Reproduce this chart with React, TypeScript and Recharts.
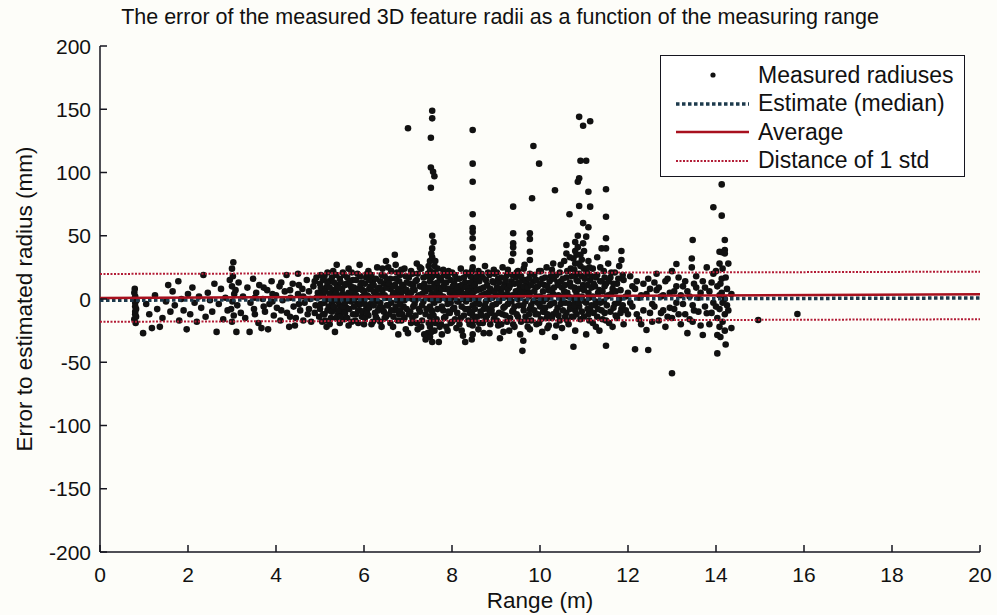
import { ScatterChart, Scatter, XAxis, YAxis } from "recharts";

// measured radius errors, grouped per range column: [range (m), errors (mm)]
const nearColumns: [number, number[]][] = [
  [0.78, [5, -16]], [0.8, [2, -3, -12, -6, -10]], [0.82, [-8, -14]], [0.81, [-19]], [0.83, [-1]], [0.79, [8]],
  [0.98, [-27]], [1.05, [-4]], [1.12, [-12]], [1.18, [-23]], [1.25, [3]], [1.3, [-8]], [1.36, [-22]],
  [1.42, [-15]], [1.5, [-2]], [1.55, [11]], [1.6, [-10]], [1.65, [6]], [1.7, [-5]], [1.78, [14]],
  [1.8, [-17]], [1.85, [0]], [1.9, [-9]], [1.97, [-24]], [2.0, [4]], [2.05, [-12]], [2.1, [9]],
  [2.15, [-3]], [2.2, [-18]], [2.25, [2]], [2.3, [-7]], [2.35, [19]], [2.4, [-14]], [2.45, [5]],
  [2.5, [-1]], [2.55, [-10]], [2.6, [12]], [2.65, [-26]], [2.7, [-4]], [2.75, [8]], [2.8, [-16]],
  [2.85, [1]], [2.9, [-9]], [2.95, [15]],
  [3.0, [24, 10, -18]], [3.03, [29]], [3.02, [18]], [3.05, [4]], [3.01, [-2]], [2.98, [-8]], [3.04, [-13]],
  [3.1, [-26]], [3.08, [7]], [3.12, [-5]], [3.15, [13]], [3.2, [-11]],
  [3.25, [2]], [3.3, [-15]], [3.35, [9]], [3.4, [-26]], [3.42, [-3]], [3.48, [16]], [3.5, [-8]],
  [3.55, [5]], [3.6, [-19]], [3.62, [11]], [3.67, [-23]], [3.7, [0]], [3.75, [-10]], [3.8, [7]],
  [3.82, [-24]], [3.85, [-4]], [3.9, [14]], [3.95, [-13]], [4.0, [3]], [4.02, [-7]], [4.08, [10]],
  [4.1, [-17]], [4.15, [-1]], [4.2, [6]], [4.24, [19]], [4.25, [-11]], [4.3, [-22]], [4.33, [1]],
  [4.38, [12]], [4.4, [-6]], [4.45, [-15]], [4.5, [20, 4]], [4.43, [-21]], [4.55, [-9]], [4.6, [8]],
  [4.65, [-3]], [4.7, [15]], [4.72, [-12]], [4.78, [0]], [4.8, [-18]], [4.85, [10]], [4.9, [-5]],
  [4.95, [5]], [4.98, [-14]],
];

const midColumns: [number, number[]][] = [
  [5.0, [12, -8, 2]], [5.05, [-18, 6]], [5.1, [18, -3, -12]], [5.15, [9, -22]], [5.2, [0, 14, -6]],
  [5.25, [-15, 4]], [5.3, [22, -9, 7]], [5.34, [-26, -1]], [5.38, [27, 11]], [5.4, [-13, 3]],
  [5.45, [16, -5, -19]], [5.5, [8, -10]], [5.55, [1, 19, -16]], [5.6, [-7, 12]], [5.65, [5, -21, 24]],
  [5.7, [-2, 10]], [5.75, [-12, 15, 3]], [5.8, [7, -17]], [5.85, [-4, 20]], [5.9, [27, 1, -9]],
  [5.95, [-14, 13]], [6.0, [6, -1, -20]], [6.05, [17, -8]], [6.1, [2, -13, 22]], [6.15, [10, -4]],
  [6.2, [-18, 14, 0]], [6.25, [5, -11]], [6.3, [25, -2, -16]], [6.35, [9, -7]], [6.4, [19, -22, 3]],
  [6.45, [-10, 12]], [6.5, [1, 30, -14]], [6.55, [25, -5]], [6.6, [8, -19, 16]], [6.66, [-22, 4]],
  [6.7, [11, -9, 35]], [6.75, [-1, 21]], [6.78, [-28, 6]], [6.8, [14, -12]], [6.85, [2, -17, 23]],
  [6.9, [9, -6]], [6.95, [18, -24]], [7.0, [-27, 4, 135]], [7.05, [12, -10]], [7.1, [0, 20, -15]],
  [7.15, [7, -4]], [7.2, [-19, 15, 28]], [7.25, [3, -8]], [7.3, [10, -22, 24]], [7.35, [-2, 17]],
  [7.4, [-32, 6, -12]], [7.45, [20, -27]],
  [7.5, [30, 22, 14, 8, 0, -6, -14, -22, -30]], [7.55, [40, 33, 50, 18, 4, -10, -18, -34, 148.8, 142.8]],
  [7.52, [127.5, 104, 88]], [7.57, [100.6]], [7.6, [97, 26, -3, -25, 12]], [7.65, [6, -16, 19]],
  [7.7, [-34, 9, -1]], [7.75, [15, -20]], [7.8, [2, -9, 23]], [7.85, [-14, 8]], [7.9, [18, -4, -25]],
  [7.95, [5, -11]], [8.0, [21, -18, 1]], [8.05, [-7, 12]], [8.1, [16, -23, 4]], [8.15, [-2, 10]],
  [8.2, [-15, 24, 7]], [8.25, [-29, 0]], [8.3, [13, -34, -8]], [8.35, [20, 3]], [8.4, [-11, 9, -20]],
  [8.47, [133.6, 107, 92.7, 67, 56, 53, 48, 41, 32, 25, 17, 10, 2, -5, -13, -21, -28]],
  [8.5, [6, -17]], [8.55, [14, -3]], [8.6, [-24, 22, 1]], [8.65, [8, -10]], [8.7, [17, -19]],
  [8.75, [-5, 4, 26]], [8.8, [-13, 11]], [8.85, [19, -27, 0]], [8.9, [6, -9]], [8.95, [23, -16, 13]],
  [9.0, [-4, 3]], [9.05, [-21, 16]], [9.09, [-31, 8]], [9.15, [1, -12, 25]], [9.2, [12, -6]],
  [9.25, [-18, 19, 4]], [9.3, [9, -25]], [9.35, [30, -2, 14]], [9.39, [73, 52, 44, 41, 36, -9, -20]],
  [9.45, [6, 17]], [9.5, [-14, 0, 22]], [9.55, [10, -28]], [9.6, [-41, 3, 15]], [9.62, [-5, -33]],
  [9.65, [7, 27]], [9.7, [-17, 12]], [9.77, [51.9, 47.4, 37.4, 30.8, 20, 5, -8, -24]], [9.82, [79.6]],
  [9.85, [121, 14, -2]], [9.9, [-12, 9]], [9.98, [107, 22, -19]],
];

const farColumns: [number, number[]][] = [
  [10.0, [2, -6]], [10.05, [16, -26]], [10.1, [-10, 11]], [10.15, [25, 0, -15]], [10.2, [7, -21]],
  [10.25, [18, -4]], [10.3, [-12, 4, 28]], [10.34, [86, -30]], [10.4, [13, -7]], [10.45, [21, -17]],
  [10.5, [-1, 9, -23]], [10.55, [30, 6]], [10.6, [42.7, 36, -11, 17]], [10.65, [2, -20]], [10.67, [67, -4]],
  [10.7, [24, 10]], [10.76, [-37.7, -14, 32]], [10.8, [45, 38, 28, 19, 7, -2, -9, -25]],
  [10.86, [92.7, 50, 41, 14, 0]], [10.89, [144, 95.4, 73.5, 20, -6]], [10.92, [109.3, 35, 26, -16]],
  [10.98, [137, 60, 44, 11]], [11.05, [109.3, 49.3, 23, -3, -28]], [11.1, [84.8, 56.7, 30, 5, -12]],
  [11.14, [140.5, 73, 15, -8]], [11.2, [24, -19, 2]], [11.25, [10, -5]], [11.3, [33, -14, 19]],
  [11.35, [-25, 7]], [11.4, [14, -9, 40]], [11.45, [-2, 22]], [11.5, [86.7, 65, 48, 40, -37, 12, -17]],
  [11.55, [3, 28]], [11.6, [-10, 17]], [11.65, [8, -22]], [11.7, [-4, 21]], [11.75, [12, -15]],
  [11.8, [0, 26]], [11.85, [38, 30.8, -8]], [11.9, [15, -20]], [12.0, [5, -12]], [12.05, [-3, 18]],
  [12.16, [-39.8, 8]], [12.25, [-16, 1]], [12.35, [12, -9]], [12.42, [-24.5, 4]], [12.46, [-40.3, 16]],
  [12.55, [-4, -18]], [12.65, [20, 7]], [12.75, [-11, 2]], [12.85, [-22, 14]], [12.95, [5, -7]],
  [13.0, [-58.7, 22, -15]], [13.1, [27.7, 10, -3]], [13.2, [-20, 3]], [13.3, [14, -12]], [13.35, [-27, 6]],
  [13.45, [25, 32]], [13.47, [46.6, -5, -18]], [13.55, [9, 18]], [13.6, [-10, 1]], [13.7, [-28.5, 14]],
  [13.79, [-11.3, 25]], [13.85, [6, -20]], [13.94, [72.5, 20, -3]], [14.03, [-43, -28.5, 10, -15]],
  [14.08, [37.4, 28, 3, -8, -22]], [14.13, [90.6, 65.9, 37, 16, 5]], [14.2, [46.6, 38.7, 36, 0, -12, -25]],
  [14.25, [8, -5]], [14.35, [-23, 4]], [14.96, [-16.6]], [15.85, [-11.9]],
];

// the thick band round zero, where the dots overlap
const bandColumns: [number, number[]][] = [
  [3.52, [1, -12]], [3.72, [9, -6]], [3.92, [-2, 4]], [4.12, [13, -9]], [4.32, [7, -14]], [4.52, [-4, 11]],
  [4.62, [2, -17]], [4.75, [6, -8]], [4.88, [-11, 14]], [4.92, [1, 17]],
  [5.02, [-4, 9, 19]], [5.07, [-12, 3, 15]], [5.12, [6, -17, 0]], [5.17, [-9, 12, 21]], [5.22, [4, -20, 9]],
  [5.27, [-3, 17, -10]], [5.32, [13, -6, 2]], [5.37, [-15, 5, 19]], [5.42, [9, -2, -9]], [5.47, [1, 13, -14]],
  [5.52, [-6, 21, 4]], [5.57, [11, -11, -3]], [5.62, [2, -15, 17]], [5.67, [14, -8, 0]], [5.72, [-18, 6, 21]],
  [5.77, [-6, 9, -1]], [5.82, [15, -12, 3]], [5.87, [-9, 8, -19]], [5.92, [11, -4, 18]], [5.97, [2, -10, 7]],
  [6.02, [12, -15, -4]], [6.07, [3, 20, -11]], [6.12, [-7, 8, 15]], [6.17, [-20, 1, 19]], [6.22, [6, -5, 11]],
  [6.27, [-14, 16, 0]], [6.32, [8, -9, 3]], [6.37, [14, -18, -3]], [6.42, [-7, 7, 24]], [6.47, [3, -15, 18]],
  [6.52, [9, -5, 15]], [6.57, [-12, 12, 1]], [6.62, [-3, 22, -9]], [6.67, [10, -14, 5]], [6.72, [-6, 16, 27]],
  [6.77, [8, -17, 2]], [6.82, [-4, 19, -9]], [6.87, [11, -12, 6]], [6.92, [-1, 24, -15]], [6.97, [7, -8, 13]],
  [7.02, [-12, 17, 1]], [7.07, [5, -19, 22]], [7.12, [-6, 11, 8]], [7.17, [14, -13, -1]], [7.22, [2, -24, 20]],
  [7.27, [-10, 10, 25]], [7.32, [4, -17, -5]], [7.37, [12, -28, 8]], [7.42, [-8, 18, 1]], [7.47, [9, -19, 26]],
  [7.53, [3, -9, 17, -26, 36]], [7.58, [-2, 9, 21, -13, 45]], [7.62, [2, -19, 30]], [7.67, [-8, 13, 24]],
  [7.72, [4, -22, 17]], [7.77, [-6, 8, -28]], [7.82, [11, -15, 19]], [7.87, [0, -22, 13]], [7.92, [8, -10, 22]],
  [7.97, [-3, 15, -19]], [8.02, [10, -8, 6]], [8.07, [-16, 3, 19]], [8.12, [8, -11, -2]], [8.17, [16, -20, 5]],
  [8.22, [-6, 11, -25]], [8.27, [4, 17, -13]], [8.32, [-2, 9, 21]], [8.37, [-17, 6, -8]], [8.42, [13, 0, 18]],
  [8.45, [-10, 4, 22, -32]], [8.52, [-8, 11, 1]], [8.57, [18, -14, 7]], [8.62, [-4, 14, -19]], [8.67, [3, 20, -13]],
  [8.72, [-8, 9, -27]], [8.77, [15, -2, -16]], [8.82, [5, 21, -8]], [8.87, [-11, 8, -20]], [8.92, [14, 1, -5]],
  [8.97, [-13, 6, 20]], [9.02, [9, -17, 21]], [9.07, [-2, 13, -11]], [9.12, [5, -20, 17]], [9.17, [-7, 9, -26]],
  [9.22, [15, 2, -13]], [9.27, [-4, 23, 8]], [9.32, [11, -15, -1]], [9.37, [3, 19, -10]], [9.42, [-6, 12, -22]],
  [9.47, [2, -12, 21]], [9.52, [13, -5, 7]], [9.57, [-18, 5, 18]], [9.63, [10, -9, 24]], [9.67, [-2, 15, -14]],
  [9.72, [4, -22, 9]], [9.75, [-12, 16, 2]], [9.8, [-5, 11, -17]], [9.87, [6, -9, 19]], [9.92, [-20, 2, 15]],
  [9.95, [-3, 10, -12]], [10.02, [12, -16, 22]], [10.07, [-2, 6, -10]], [10.12, [17, -7, 1]],
  [10.17, [-12, 10, -23]], [10.22, [2, 14, -5]], [10.27, [-15, 7, 23]], [10.32, [9, -3, 16]],
  [10.37, [-10, 19, -21]], [10.42, [3, -13, 11]], [10.47, [-4, 14, 27]], [10.52, [16, -9, 2]],
  [10.57, [-14, 11, -3]], [10.62, [5, 22, -17]], [10.68, [-8, 13, 33]], [10.72, [1, -14, 18]],
  [10.78, [9, -5, 23]], [10.83, [-12, 4, 15, 35]], [10.88, [-3, 28, 8]], [10.95, [-10, 2, 18, 31]],
  [11.0, [-14, 7, 24, 38]], [11.02, [-2, 16]], [11.08, [-8, 11, 20]], [11.12, [1, -17, 25]],
  [11.17, [-5, 9, 18]], [11.22, [12, -11]], [11.27, [-2, 17, -22]], [11.32, [5, -8]], [11.37, [14, -3, 25]],
  [11.42, [-16, 6]], [11.47, [10, -11, 17]], [11.52, [-5, 2]], [11.57, [-19, 14]], [11.62, [4, 21]],
  [11.67, [-7, 12]], [11.72, [-13, 6]], [11.78, [16, -3]], [11.83, [7, -11]], [11.88, [-5, 19]],
  [11.95, [2, -9]], [12.1, [10, -6]], [12.2, [-12, 14]], [12.3, [3, -20]], [12.5, [8, -11]], [12.6, [-6, 13]],
  [12.7, [-17, 9]], [12.8, [3, -9]], [12.9, [16, -14]], [13.05, [-8, 6]], [13.15, [17, -12]], [13.25, [-4, 10]],
  [13.4, [-16, 2]], [13.5, [12, -9]], [13.65, [-21, 5]], [13.75, [-6, 9]], [13.9, [13, -11]], [14.0, [-6, 22]],
  [14.1, [-30, 12]], [14.15, [-18, -3, 24]], [14.22, [17, -36]], [14.28, [-9, 28]],
];

// fitted lines, value at range 0 and range 20
const lineRange = [0, 20];
const medianEstimate = [-1, 0.8];
const averageError = [0.8, 3.7];
const stdUpper = [19.8, 21.6];
const stdLower = [-18, -16];

const xTicks = [0, 2, 4, 6, 8, 10, 12, 14, 16, 18, 20];
const yTicks = [-200, -150, -100, -50, 0, 50, 100, 150, 200];

const measured = [...nearColumns, ...midColumns, ...farColumns, ...bandColumns].flatMap(([x, ys]) =>
  ys.map((y) => ({ x, y }))
);
const toLine = (vals: number[]) => lineRange.map((x, i) => ({ x, y: vals[i] }));

const FONT = "'Liberation Sans', Arial, Helvetica, sans-serif";
const INK = "#15151f";
const MEDIAN = "#1d3a4c";
const AVG = "#a8101e";
const STD = "#b21c36";

const XTick = (props: any) => {
  const { x, y, payload } = props;
  return (
    <g>
      <line x1={x} x2={x} y1={y} y2={y - 7} stroke={INK} strokeWidth={1.5} />
      <text x={x} y={y + 30} textAnchor="middle" fontSize={21} fontFamily={FONT} fill="#111">
        {payload.value}
      </text>
    </g>
  );
};

const YTick = (props: any) => {
  const { x, y, payload } = props;
  return (
    <g>
      <line x1={x} x2={x + 7} y1={y} y2={y} stroke={INK} strokeWidth={1.5} />
      <text x={x - 9} y={y + 7.5} textAnchor="end" fontSize={21} fontFamily={FONT} fill="#111">
        {payload.value}
      </text>
    </g>
  );
};

const Dot = (props: any) => <circle cx={props.cx} cy={props.cy} r={3.3} fill="#111" />;
const NoDot = () => <g />;

function LegendBox() {
  const rows = [
    { label: "Measured radiuses", kind: "dot" },
    { label: "Estimate (median)", kind: "median" },
    { label: "Average", kind: "avg" },
    { label: "Distance of 1 std", kind: "std" },
  ];
  return (
    <div
      style={{
        position: "absolute",
        left: 660,
        top: 55,
        width: 305,
        height: 122,
        border: `1.5px solid ${INK}`,
        background: "#fff",
        boxSizing: "border-box",
      }}
    >
      {rows.map((r, i) => (
        <div
          key={r.label}
          style={{ position: "absolute", left: 0, top: 6 + i * 28.5, height: 26, display: "flex", alignItems: "center" }}
        >
          <svg width={96} height={26} style={{ display: "block" }}>
            {r.kind === "dot" && <circle cx={52} cy={13} r={2.6} fill="#111" />}
            {r.kind === "median" && (
              <line x1={15} x2={88} y1={13} y2={13} stroke={MEDIAN} strokeWidth={3.5} strokeDasharray="3.5 2.5" />
            )}
            {r.kind === "avg" && <line x1={15} x2={88} y1={13} y2={13} stroke={AVG} strokeWidth={2.5} />}
            {r.kind === "std" && (
              <line x1={15} x2={88} y1={13} y2={13} stroke={STD} strokeWidth={2} strokeDasharray="2 1.5" />
            )}
          </svg>
          <span style={{ fontFamily: FONT, fontSize: 23, color: "#111", marginLeft: 1, whiteSpace: "nowrap" }}>
            {r.label}
          </span>
        </div>
      ))}
    </div>
  );
}

export default function App() {
  return (
    <div style={{ position: "relative", width: 997, height: 615, background: "#fdfdf9" }}>
      <style>{"body{margin:0}"}</style>
      <div
        style={{
          position: "absolute",
          top: 5,
          left: 0,
          width: 1000,
          textAlign: "center",
          fontFamily: FONT,
          fontSize: 21.5,
          color: "#111",
          whiteSpace: "nowrap",
        }}
      >
        The error of the measured 3D feature radii as a function of the measuring range
      </div>
      <ScatterChart width={997} height={615} margin={{ top: 46, right: 17, bottom: 33, left: 0 }}>
        <XAxis
          type="number"
          dataKey="x"
          domain={[0, 20]}
          ticks={xTicks}
          tick={<XTick />}
          tickSize={0}
          tickMargin={0}
          tickLine={false}
          axisLine={{ stroke: INK, strokeWidth: 1.5 }}
          height={30}
          interval={0}
          label={{
            value: "Range (m)",
            position: "bottom",
            offset: 10,
            style: { fontFamily: FONT, fontSize: 22.5, fill: "#111" },
          }}
        />
        <YAxis
          type="number"
          dataKey="y"
          domain={[-200, 200]}
          ticks={yTicks}
          tick={<YTick />}
          tickSize={0}
          tickMargin={0}
          tickLine={false}
          axisLine={{ stroke: INK, strokeWidth: 1.5 }}
          width={100}
          interval={0}
          label={{
            value: "Error to estimated radius (mm)",
            angle: -90,
            position: "insideLeft",
            offset: 24,
            style: { fontFamily: FONT, fontSize: 22.5, fill: "#111", textAnchor: "middle" },
          }}
        />
        <Scatter data={measured} shape={<Dot />} isAnimationActive={false} />
        <Scatter
          data={toLine(medianEstimate)}
          shape={<NoDot />}
          line={{ stroke: MEDIAN, strokeWidth: 3.5, strokeDasharray: "3.5 2.5" }}
          isAnimationActive={false}
        />
        <Scatter
          data={toLine(averageError)}
          shape={<NoDot />}
          line={{ stroke: AVG, strokeWidth: 2.5 }}
          isAnimationActive={false}
        />
        <Scatter
          data={toLine(stdUpper)}
          shape={<NoDot />}
          line={{ stroke: STD, strokeWidth: 2, strokeDasharray: "2 1.5" }}
          isAnimationActive={false}
        />
        <Scatter
          data={toLine(stdLower)}
          shape={<NoDot />}
          line={{ stroke: STD, strokeWidth: 2, strokeDasharray: "2 1.5" }}
          isAnimationActive={false}
        />
      </ScatterChart>
      <LegendBox />
    </div>
  );
}
